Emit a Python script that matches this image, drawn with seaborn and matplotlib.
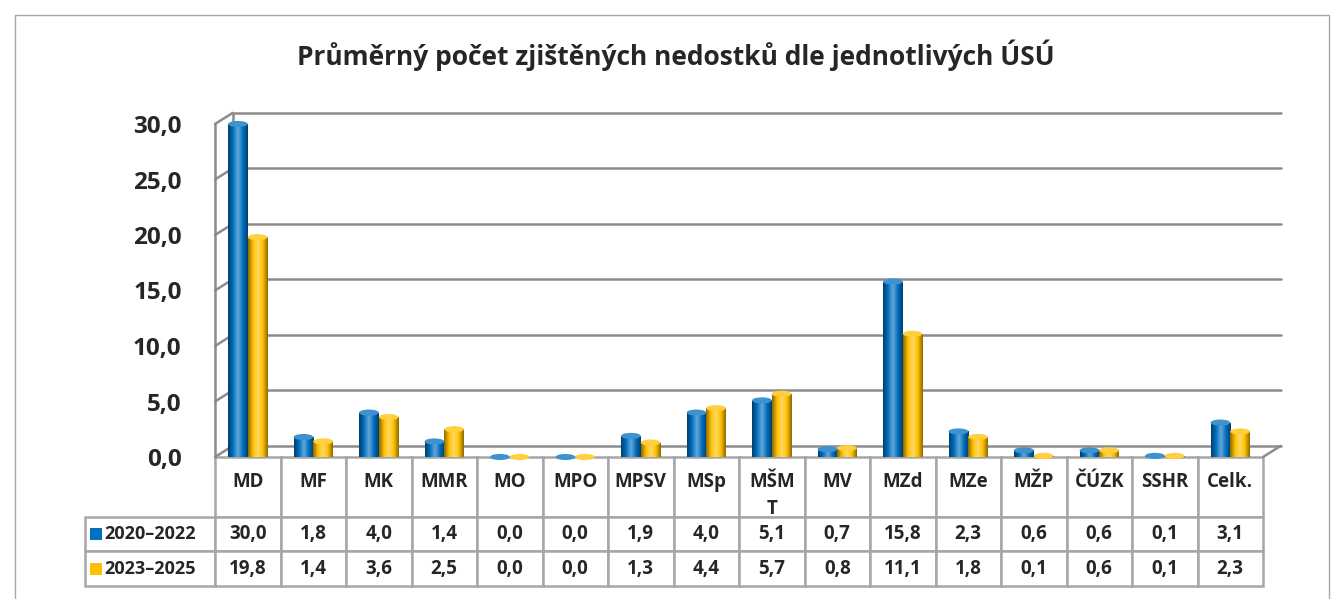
import numpy as np
import pandas as pd
import seaborn as sns
import matplotlib.pyplot as plt
from matplotlib.colors import LinearSegmentedColormap, to_rgb
from matplotlib.patches import Ellipse, Rectangle

# data
categories = ['MD', 'MF', 'MK', 'MMR', 'MO', 'MPO', 'MPSV', 'MSp', 'MŠMT', 'MV',
              'MZd', 'MZe', 'MŽP', 'ČÚZK', 'SSHR', 'Celk.']
header_labels = ['MD', 'MF', 'MK', 'MMR', 'MO', 'MPO', 'MPSV', 'MSp', 'MŠM\nT', 'MV',
                 'MZd', 'MZe', 'MŽP', 'ČÚZK', 'SSHR', 'Celk.']
period_1 = [30.0, 1.8, 4.0, 1.4, 0.0, 0.0, 1.9, 4.0, 5.1, 0.7, 15.8, 2.3, 0.6, 0.6, 0.1, 3.1]
period_2 = [19.8, 1.4, 3.6, 2.5, 0.0, 0.0, 1.3, 4.4, 5.7, 0.8, 11.1, 1.8, 0.1, 0.6, 0.1, 2.3]
series_names = ['2020–2022', '2023–2025']
y_ticks = [0, 5, 10, 15, 20, 25, 30]
title = 'Průměrný počet zjištěných nedostků dle jednotlivých ÚSÚ'

BLUE = '#0070C0'
YELLOW = '#FFC000'
GRID = '#8c8c8c'

df = pd.DataFrame({
    'cat': categories * 2,
    'period': [series_names[0]] * len(categories) + [series_names[1]] * len(categories),
    'value': period_1 + period_2,
})

sns.set_style('white')
plt.rcParams['font.family'] = ['Open Sans', 'DejaVu Sans']

fig = plt.figure(figsize=(13.33, 5.99), dpi=100)
W, H = 1333, 599
ax = fig.add_axes([215 / W, 1 - 457 / H, 1048 / W, 333 / H])

sns.barplot(data=df, x='cat', y='value', hue='period', palette=[BLUE, YELLOW],
            width=0.6, gap=0, legend=False, ax=ax, saturation=1, zorder=3)

ax.set_xticks([])
ax.set_xlabel('')
ax.set_ylabel('')
for s in ax.spines.values():
    s.set_visible(False)
ax.set_yticks(y_ticks)
ax.set_yticklabels([f'{t:.1f}'.replace('.', ',') for t in y_ticks],
                   fontsize=17.5, fontweight='bold')
ax.tick_params(axis='y', length=0, pad=24)

# pseudo 3D frame: back wall grid offset from the front edge
dx, dy = 0.27, 1.0
x0, x1 = -0.5, len(categories) - 0.5
line_kw = dict(color=GRID, lw=1.8, clip_on=False, zorder=1)
ax.plot([x0, x0], [0, 30], **line_kw)
ax.plot([x0 + dx, x0 + dx], [dy, 30 + dy], **line_kw)
for t in y_ticks:
    ax.plot([x0, x0 + dx], [t, t + dy], **line_kw)
    ax.plot([x0 + dx, x1 + dx], [t + dy, t + dy], **line_kw)
ax.plot([x1, x1 + dx], [0, dy], **line_kw)

# cylinder shading
def shade(base):
    r, g, b = to_rgb(base)
    dark = (r * 0.55, g * 0.55, b * 0.55)
    light = tuple(min(1, c * 0.6 + 0.4) for c in (r, g, b))
    return LinearSegmentedColormap.from_list('cyl', [dark, base, light, base, dark])

grad = np.linspace(0, 1, 64).reshape(1, -1)
for p in list(ax.patches):
    h = p.get_height()
    x = p.get_x()
    w = p.get_width()
    fc = p.get_facecolor()
    base = BLUE if fc[2] > fc[0] else YELLOW
    if h > 0.05:
        im = ax.imshow(grad, cmap=shade(base), aspect='auto',
                       extent=[x, x + w, 0, h], zorder=3, interpolation='bicubic')
        im.set_clip_path(p)
        p.set_edgecolor('none')
    ax.add_patch(Ellipse((x + w / 2, h), w, 0.55, facecolor=shade(base)(0.6),
                         edgecolor='none', zorder=4, clip_on=False))
ax.set_xlim(x0, x1)
ax.set_ylim(0, 30)

# data table: first column holds the series names
cell_text = [[series_names[0]] + [f'{v:.1f}'.replace('.', ',') for v in period_1],
             [series_names[1]] + [f'{v:.1f}'.replace('.', ',') for v in period_2]]
tbl = ax.table(cellText=cell_text,
               colLabels=[''] + ['' if '\n' in h else h for h in header_labels],
               cellLoc='center',
               bbox=[-130 / 1048, -129 / 333, 1178 / 1048, 129 / 333])
tbl.auto_set_font_size(False)
tbl.set_fontsize(13.5)
for (r, c), cell in tbl.get_celld().items():
    cell.set_edgecolor('#a6a6a6')
    cell.set_linewidth(1.8)
    cell.set_text_props(fontweight='bold')
    cell.set_height(60 if r == 0 else 35)
    cell.set_width(130 if c == 0 else 65.5)
    if r == 0:
        # header labels sit in the upper part of the tall cell
        cell.get_text().set_verticalalignment('baseline')
    if c == 0:
        cell._loc = 'right'
        cell.PAD = 0.07
        cell.get_text().set_fontsize(13)
        if r == 0:
            cell.visible_edges = ''

# wrapped header label (MŠMT) drawn line by line
for i, h in enumerate(header_labels):
    if '\n' in h:
        for k, part in enumerate(h.split('\n')):
            ax.text(i, -(30 + 27 * k) / 333, part, transform=ax.get_xaxis_transform(),
                    ha='center', va='baseline', fontsize=13.5, fontweight='bold')

# legend keys inside the first column
for i, col in enumerate([BLUE, YELLOW]):
    yc = 534 + i * 35
    fig.patches.append(Rectangle((90 / W, 1 - (yc + 6) / H), 12 / W, 12 / H,
                                 transform=fig.transFigure, facecolor=col,
                                 edgecolor='none', zorder=5))

fig.text(676 / W, 1 - 55 / H, title, ha='center', va='center',
         fontsize=19, fontweight='bold')

# chart border
fig.patches.append(Rectangle((15 / W, -0.1), 1314 / W, 1.1 - 15 / H,
                             transform=fig.transFigure, facecolor='none',
                             edgecolor='#a6a6a6', lw=1))

fig.savefig('out.png', dpi=100)
